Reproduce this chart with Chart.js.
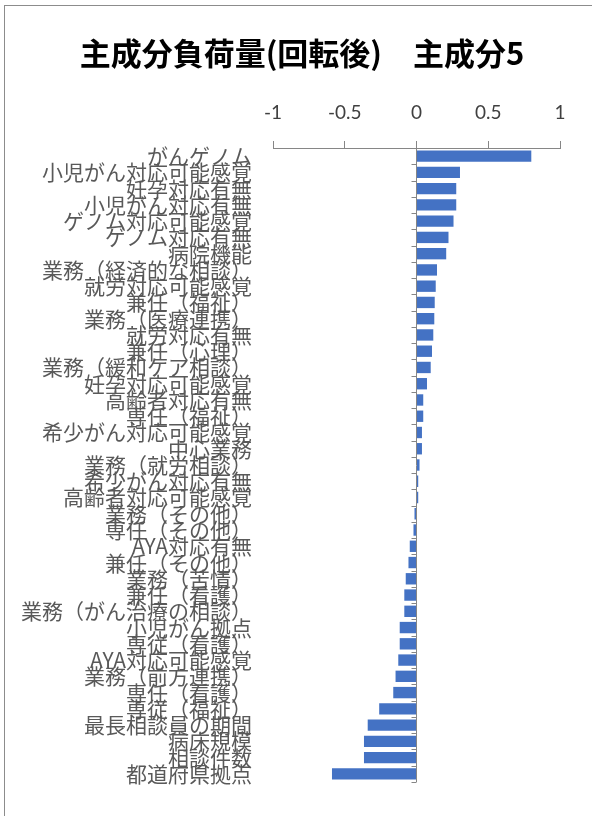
<!DOCTYPE html>
<html>
<head>
<meta charset="utf-8">
<script src="https://cdn.jsdelivr.net/npm/chart.js@4"></script>
<style>
  html, body { margin: 0; padding: 0; background: #fff; overflow: hidden; }
  #frame { position: absolute; left: 4px; top: 5px; width: 600px; height: 820px;
           border-left: 1px solid #8c8c8c; border-top: 1px solid #8c8c8c; }
  #wrap { position: absolute; left: 1px; top: 0px; width: 592px; height: 811px; }
</style>
</head>
<body>
<div id="frame"><div id="wrap"><canvas id="c" width="592" height="811"></canvas></div></div>
<script>
const titleText = "主成分負荷量(回転後)　主成分5";
const categories = [
  "がんゲノム", "小児がん対応可能感覚", "妊孕対応有無", "小児がん対応有無", "ゲノム対応可能感覚",
  "ゲノム対応有無", "病院機能", "業務（経済的な相談）", "就労対応可能感覚", "兼任（福祉）",
  "業務（医療連携）", "就労対応有無", "兼任（心理）", "業務（緩和ケア相談）", "妊孕対応可能感覚",
  "高齢者対応有無", "専任（福祉）", "希少がん対応可能感覚", "中心業務", "業務（就労相談）",
  "希少がん対応有無", "高齢者対応可能感覚", "業務（その他）", "専任（その他）", "AYA対応有無",
  "兼任（その他）", "業務（苦情）", "兼任（看護）", "業務（がん治療の相談）", "小児がん拠点",
  "専従（看護）", "AYA対応可能感覚", "業務（前方連携）", "専任（看護）", "専従（福祉）",
  "最長相談員の期間", "病床規模", "相談件数", "都道府県拠点"
];
const loadings = [
  0.80, 0.303, 0.277, 0.277, 0.258,
  0.223, 0.207, 0.143, 0.134, 0.127,
  0.124, 0.117, 0.108, 0.099, 0.073,
  0.047, 0.047, 0.038, 0.038, 0.021,
  0.012, 0.012, -0.014, -0.021, -0.047,
  -0.056, -0.075, -0.085, -0.085, -0.117,
  -0.117, -0.127, -0.146, -0.162, -0.26,
  -0.340, -0.366, -0.366, -0.589
];
const xTicks = [-1, -0.5, 0, 0.5, 1];

const zeroAxisTicks = {
  id: 'zeroAxisTicks',
  afterDatasetsDraw(chart) {
    const x = chart.scales.x, y = chart.scales.y;
    const x0 = x.getPixelForValue(0);
    const step = y.getPixelForValue(1) - y.getPixelForValue(0);
    const ctx = chart.ctx;
    ctx.save();
    ctx.strokeStyle = '#868686';
    ctx.lineWidth = 1;
    ctx.beginPath();
    for (let i = 0; i <= categories.length; i++) {
      const py = Math.round(y.getPixelForValue(0) + (i - 0.5) * step) + 0.5;
      ctx.moveTo(x0 - 5, py);
      ctx.lineTo(x0, py);
    }
    ctx.stroke();
    ctx.restore();
  }
};

new Chart(document.getElementById('c'), {
  type: 'bar',
  data: {
    labels: categories,
    datasets: [{
      data: loadings,
      backgroundColor: '#4472C4',
      borderWidth: 0,
      categoryPercentage: 1.0,
      barPercentage: 0.7
    }]
  },
  options: {
    indexAxis: 'y',
    responsive: false,
    animation: false,
    devicePixelRatio: 1,
    layout: { padding: { left: 0, right: 0, top: 0, bottom: 35 } },
    plugins: {
      legend: { display: false },
      tooltip: { enabled: false },
      title: {
        display: true,
        text: titleText,
        color: '#000',
        font: { family: "'Noto Sans CJK JP', sans-serif", size: 31, weight: 'bold', lineHeight: 1.2 },
        padding: { top: 29, bottom: 12 }
      }
    },
    scales: {
      x: {
        position: 'top',
        min: -1, max: 1,
        afterBuildTicks: s => { s.ticks = xTicks.map(v => ({ value: v })); },
        ticks: {
          color: '#404040',
          font: { family: "Lato, 'Open Sans', sans-serif", size: 19 },
          padding: 17,
          maxRotation: 0,
          callback: v => String(v)
        },
        grid: {
          drawOnChartArea: true,
          color: ctx => (ctx.tick && ctx.tick.value === 0) ? '#868686' : 'rgba(0,0,0,0)',
          tickColor: '#868686',
          tickLength: 7,
          lineWidth: 1
        },
        border: { display: true, color: '#868686', width: 1 }
      },
      y: {
        afterFit: s => { s.width = 267; },
        ticks: {
          autoSkip: false,
          color: '#595959',
          font: { family: "'Noto Sans CJK JP', sans-serif", size: 21 },
          padding: 21
        },
        grid: { display: false, drawTicks: false },
        border: { display: false }
      },
      rightSpace: {
        type: 'linear',
        position: 'right',
        display: true,
        afterFit: s => { s.width = 38; },
        ticks: { display: false },
        grid: { display: false, drawTicks: false },
        border: { display: false }
      }
    }
  },
  plugins: [zeroAxisTicks]
});
</script>
</body>
</html>
